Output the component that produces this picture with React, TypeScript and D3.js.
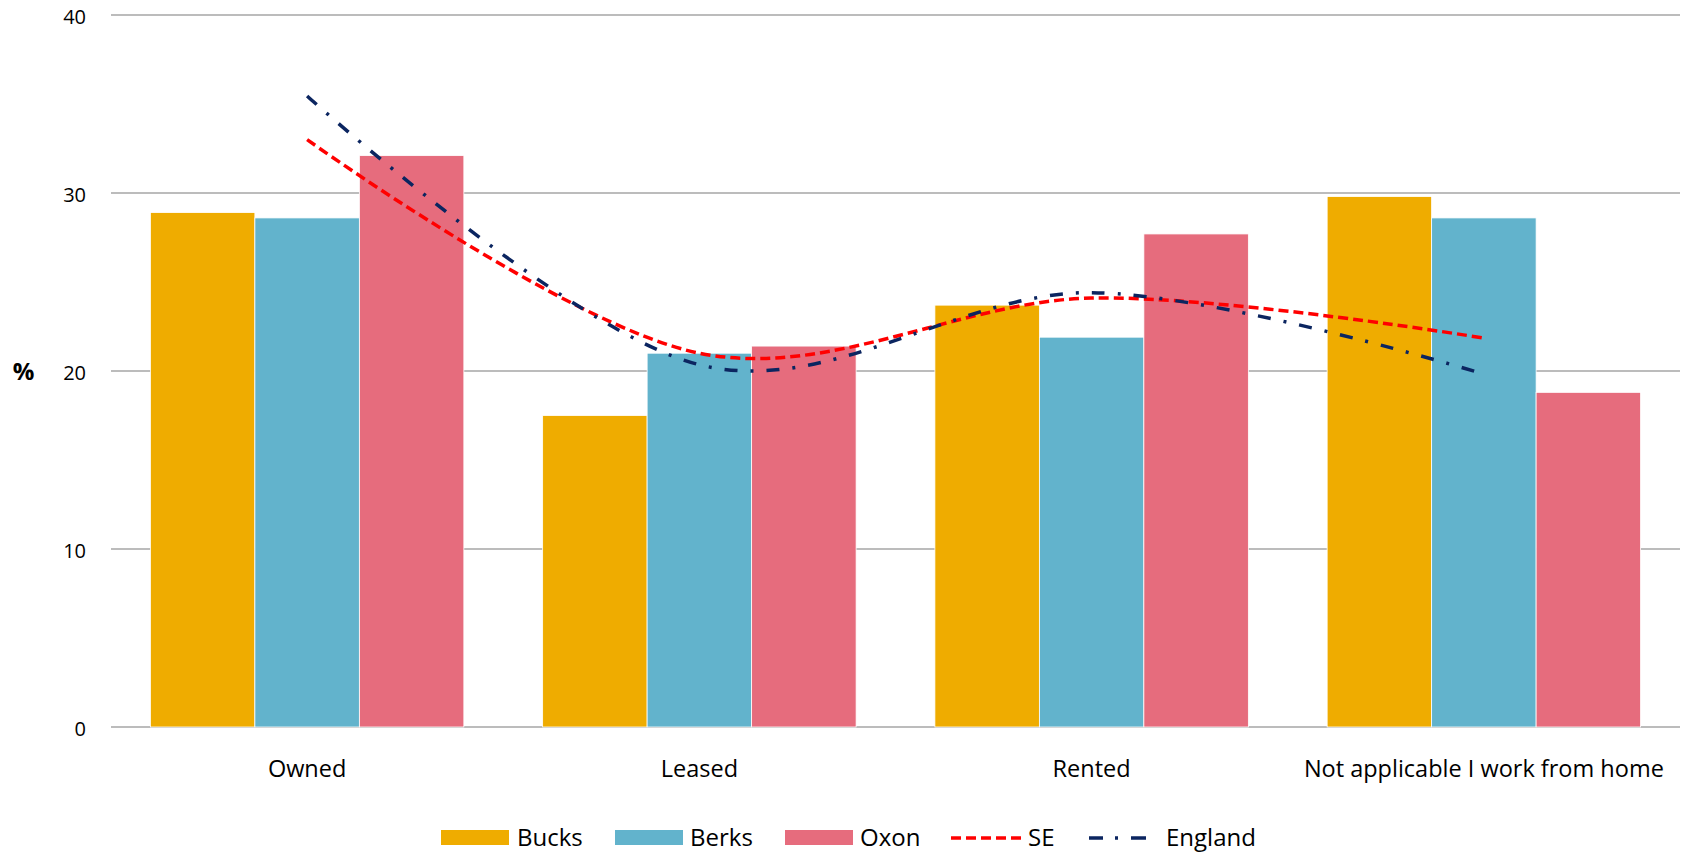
import React from "react";
import * as d3 from "d3";

const categories = ["Owned", "Leased", "Rented", "Not applicable I work from home"];
const barSeries = ["Bucks", "Berks", "Oxon"];
const bucks = [28.9, 17.5, 23.7, 29.8];
const berks = [28.6, 21.0, 21.9, 28.6];
const oxon = [32.1, 21.4, 27.7, 18.8];
const se = [33.0, 21.0, 24.1, 21.85];
const england = [35.45, 20.35, 24.4, 19.83];
const yTicks = [0, 10, 20, 30, 40];

const barColors = ["#EFAC00", "#62B3CC", "#E66C7D"];
const seColor = "#FF0000";
const engColor = "#0B2560";

const W = 1685;
const H = 853;
const left = 111;
const right = 1680;
const top = 15;
const bottom = 727;

export default function App() {
  const x0 = d3.scaleBand<string>().domain(categories).range([left, right]).padding(0);
  const x1 = d3
    .scaleBand<string>()
    .domain(barSeries)
    .range([0, x0.bandwidth()])
    .paddingInner(0)
    .paddingOuter(0.377);
  const y = d3.scaleLinear().domain([0, 40]).range([bottom, top]);
  const barData = [bucks, berks, oxon];
  const line = d3
    .line<number>()
    .x((_, i) => (x0(categories[i]) as number) + x0.bandwidth() / 2)
    .y((d) => y(d))
    .curve(d3.curveCardinal.tension(0));

  const font = "'Open Sans', sans-serif";
  const legendItems = [
    { label: "Bucks", type: "bar", color: barColors[0], sx: 441, sw: 68, tx: 517 },
    { label: "Berks", type: "bar", color: barColors[1], sx: 615, sw: 68, tx: 690 },
    { label: "Oxon", type: "bar", color: barColors[2], sx: 785, sw: 68, tx: 860 },
    { label: "SE", type: "se", color: seColor, sx: 951, sw: 71, tx: 1028 },
    { label: "England", type: "eng", color: engColor, sx: 1089, sw: 57, tx: 1166 },
  ];
  const ly = 838;

  return (
    <svg
      width={W}
      height={H}
      style={{ position: "absolute", left: 0, top: 0, background: "#fff" }}
    >
      {yTicks.map((t) => (
        <g key={t}>
          <line x1={left} x2={right} y1={y(t)} y2={y(t)} stroke="#A6A6A6" strokeWidth={1.5} />
          <text
            x={86}
            y={y(t) + 8.5}
            textAnchor="end"
            fontFamily={font}
            fontSize={20}
            fill="#000"
          >
            {t}
          </text>
        </g>
      ))}
      <text x={23.5} y={380} textAnchor="middle" fontFamily={font} fontWeight="bold" fontSize={24}>
        %
      </text>
      {categories.map((c, ci) => (
        <g key={c} transform={`translate(${x0(c)},0)`}>
          {barSeries.map((s, si) => (
            <rect
              key={s}
              x={x1(s)}
              y={y(barData[si][ci])}
              width={x1.bandwidth()}
              height={bottom - y(barData[si][ci])}
              fill={barColors[si]}
              stroke="#fff"
              strokeWidth={0.8}
            />
          ))}
          <text
            x={x0.bandwidth() / 2}
            y={777}
            textAnchor="middle"
            fontFamily={font}
            fontSize={23.5}
            fill="#000"
          >
            {c}
          </text>
        </g>
      ))}
      <path d={line(se) || ""} fill="none" stroke={seColor} strokeWidth={3.5} strokeDasharray="10,5" />
      <path d={line(england) || ""} fill="none" stroke={engColor} strokeWidth={3.5} strokeDasharray="13,13,3,13" />
      {legendItems.map((it) => (
        <g key={it.label}>
          {it.type === "bar" ? (
            <rect x={it.sx} y={830} width={it.sw} height={15} fill={it.color} />
          ) : it.type === "se" ? (
            <line x1={it.sx} x2={it.sx + it.sw} y1={ly} y2={ly} stroke={it.color} strokeWidth={3.5} strokeDasharray="10,5" />
          ) : (
            <line x1={it.sx} x2={it.sx + it.sw} y1={ly} y2={ly} stroke={it.color} strokeWidth={3.5} strokeDasharray="14,12,3,13,15" />
          )}
          <text x={it.tx} y={845.5} fontFamily={font} fontSize={24} fill="#000">
            {it.label}
          </text>
        </g>
      ))}
    </svg>
  );
}
